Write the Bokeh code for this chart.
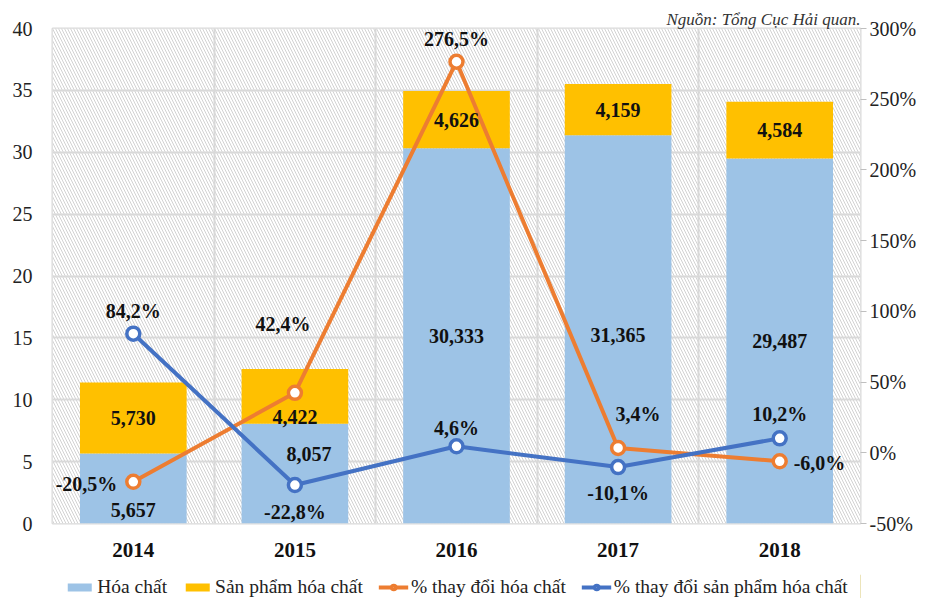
import numpy as np
from bokeh.plotting import figure
from bokeh.layouts import column
from bokeh.models import (Range1d, LinearAxis, FixedTicker, PrintfTickFormatter,
                          BoxAnnotation, Legend, LegendItem, ColumnDataSource, Title)
from bokeh.core.properties import value
from bokeh.embed import file_html
from bokeh.resources import INLINE

years = ["2014", "2015", "2016", "2017", "2018"]
hoa_chat = [5.657, 8.057, 30.333, 31.365, 29.487]
san_pham = [5.730, 4.422, 4.626, 4.159, 4.584]
pct_hoa_chat = [-20.5, 42.4, 276.5, 3.4, -6.0]
pct_san_pham = [84.2, -22.8, 4.6, -10.1, 10.2]
left_ticks = [0, 5, 10, 15, 20, 25, 30, 35, 40]
right_ticks = [-50, 0, 50, 100, 150, 200, 250, 300]
legend_labels = ["Hóa chất", "Sản phẩm hóa chất", "% thay đổi hóa chất",
                 "% thay đổi sản phẩm hóa chất"]

FONT = "Liberation Serif"
BLUE_BAR = "#9dc3e6"
YELLOW = "#ffc000"
ORANGE = "#ed7d31"
BLUE_LINE = "#4472c4"


def fmt_num(v):
    return f"{v:.3f}".replace(".", ",")


def fmt_pct(v):
    return f"{v:.1f}%".replace(".", ",")


x = np.arange(len(years)) + 0.5

p = figure(frame_width=808, frame_height=495, x_range=Range1d(0, 5), y_range=Range1d(0, 40),
           output_backend="svg", toolbar_location=None,
           min_border_left=52, min_border_right=60, min_border_top=28, min_border_bottom=51)
p.extra_y_ranges = {"pct": Range1d(-50, 300)}

p.title = Title(text="Nguồn: Tổng Cục Hải quan.", align="right", text_font=FONT,
                text_font_style="italic", text_font_size="17px", text_color="#333333",
                standoff=0, offset=0)

p.outline_line_color = "#d9d9d9"
p.outline_line_width = 2
p.background_fill_color = "white"
p.border_fill_color = "white"

bg = BoxAnnotation(fill_color="white", fill_alpha=1, hatch_pattern="\\", hatch_color="#d2d2d2",
                   hatch_scale=6, hatch_weight=1, line_alpha=0, level="image")
p.add_layout(bg)

p.ygrid.ticker = FixedTicker(ticks=left_ticks)
p.ygrid.grid_line_color = "#d9d9d9"
p.ygrid.grid_line_width = 2
p.xgrid.ticker = FixedTicker(ticks=[1, 2, 3, 4])
p.xgrid.grid_line_color = "#d9d9d9"
p.xgrid.grid_line_width = 2

# axes
p.yaxis.ticker = FixedTicker(ticks=left_ticks)
p.yaxis.axis_line_color = None
p.yaxis.major_tick_line_color = None
p.yaxis.minor_tick_line_color = None
p.yaxis.major_label_text_font = FONT
p.yaxis.major_label_text_font_size = "20px"
p.yaxis.major_label_text_color = "#222222"
p.yaxis.major_label_standoff = 14

p.xaxis.ticker = FixedTicker(ticks=list(x))
p.xaxis.major_label_overrides = {float(xx): y for xx, y in zip(x, years)}
p.xaxis.axis_line_color = None
p.xaxis.major_tick_line_color = None
p.xaxis.minor_tick_line_color = None
p.xaxis.major_label_text_font = FONT
p.xaxis.major_label_text_font_size = "21px"
p.xaxis.major_label_text_font_style = "bold"
p.xaxis.major_label_text_color = "#111111"
p.xaxis.major_label_standoff = 13

raxis = LinearAxis(y_range_name="pct", ticker=FixedTicker(ticks=right_ticks),
                   formatter=PrintfTickFormatter(format="%d%%"))
raxis.axis_line_color = None
raxis.major_tick_line_color = "#bfbfbf"
raxis.major_tick_out = 6
raxis.major_tick_in = 0
raxis.minor_tick_line_color = None
raxis.major_label_text_font = FONT
raxis.major_label_text_font_size = "20px"
raxis.major_label_text_color = "#222222"
raxis.major_label_standoff = 3
p.add_layout(raxis, "right")

# bars
src = ColumnDataSource(dict(x=x, top1=np.array(hoa_chat),
                            top2=np.array(hoa_chat) + np.array(san_pham)))
bar_style1 = dict(fill_color=BLUE_BAR, line_color=None)
bar_style2 = dict(fill_color=YELLOW, line_color=None)
p.vbar(x="x", bottom=0, top="top1", width=0.66, source=src, **bar_style1)
p.vbar(x="x", bottom="top1", top="top2", width=0.66, source=src, **bar_style2)

# lines
line_o = dict(line_color=ORANGE, line_width=4)
mark_o = dict(size=13, fill_color="white", line_color=ORANGE, line_width=3.5)
line_b = dict(line_color=BLUE_LINE, line_width=4)
mark_b = dict(size=13, fill_color="white", line_color=BLUE_LINE, line_width=3.5)
p.line(x, pct_hoa_chat, y_range_name="pct", **line_o)
p.scatter(x, pct_hoa_chat, y_range_name="pct", **mark_o)
p.line(x, pct_san_pham, y_range_name="pct", **line_b)
p.scatter(x, pct_san_pham, y_range_name="pct", **mark_b)

lbl = dict(text_font=value(FONT), text_font_size="20px", text_font_style="bold",
           text_color="#111111", text_baseline="middle")

# bar labels (offsets in screen px)
hc_xoff = [0, 14, 0, 0, 0]
hc_yoff = [22, -20, 0, 6, 0]
sp_yoff = [0, 21, 0, 0, 0]
p.text(x, np.array(hoa_chat) / 2, text=[fmt_num(v) for v in hoa_chat],
       x_offset=hc_xoff, y_offset=hc_yoff, text_align="center", **lbl)
p.text(x, np.array(hoa_chat) + np.array(san_pham) / 2, text=[fmt_num(v) for v in san_pham],
       x_offset=0, y_offset=sp_yoff, text_align="center", **lbl)

# line labels
o_xoff = [-16, -12, 0, 20, 14]
o_yoff = [2, -69, -23, -34, 2]
o_align = ["right", "center", "center", "center", "left"]
p.text(x, pct_hoa_chat, text=[fmt_pct(v) for v in pct_hoa_chat], y_range_name="pct",
       x_offset=o_xoff, y_offset=o_yoff, text_align=o_align, **lbl)
b_yoff = [-23, 27, -18, 26, -24]
p.text(x, pct_san_pham, text=[fmt_pct(v) for v in pct_san_pham], y_range_name="pct",
       x_offset=0, y_offset=b_yoff, text_align="center", **lbl)

# legend strip (separate figure so the legend is not clipped)
lf = figure(width=920, height=25, x_range=Range1d(0, 1), y_range=Range1d(0, 1),
            output_backend="svg", toolbar_location=None, x_axis_type=None, y_axis_type=None,
            min_border=0)
lf.outline_line_color = None
lf.xgrid.visible = False
lf.ygrid.visible = False
r1 = lf.vbar(x=[5], top=[5], width=0.1, **bar_style1)
r2 = lf.vbar(x=[5], top=[5], width=0.1, **bar_style2)
r3 = lf.line([5, 6], [5, 6], **line_o)
r4 = lf.scatter([5], [5], **mark_o)
r5 = lf.line([5, 6], [5, 6], **line_b)
r6 = lf.scatter([5], [5], **mark_b)
legend = Legend(items=[
    LegendItem(label=legend_labels[0], renderers=[r1]),
    LegendItem(label=legend_labels[1], renderers=[r2]),
    LegendItem(label=legend_labels[2], renderers=[r3, r4]),
    LegendItem(label=legend_labels[3], renderers=[r5, r6]),
], orientation="horizontal", location="center", border_line_color=None,
    background_fill_alpha=0, label_text_font=FONT, label_text_font_size="19.5px",
    label_text_color="#222222", glyph_width=30, glyph_height=10, label_standoff=3,
    spacing=15, padding=0, margin=0)
lf.add_layout(legend, "center")

layout = column(p, lf, spacing=0)
open("out.html", "w").write(file_html(layout, INLINE))
